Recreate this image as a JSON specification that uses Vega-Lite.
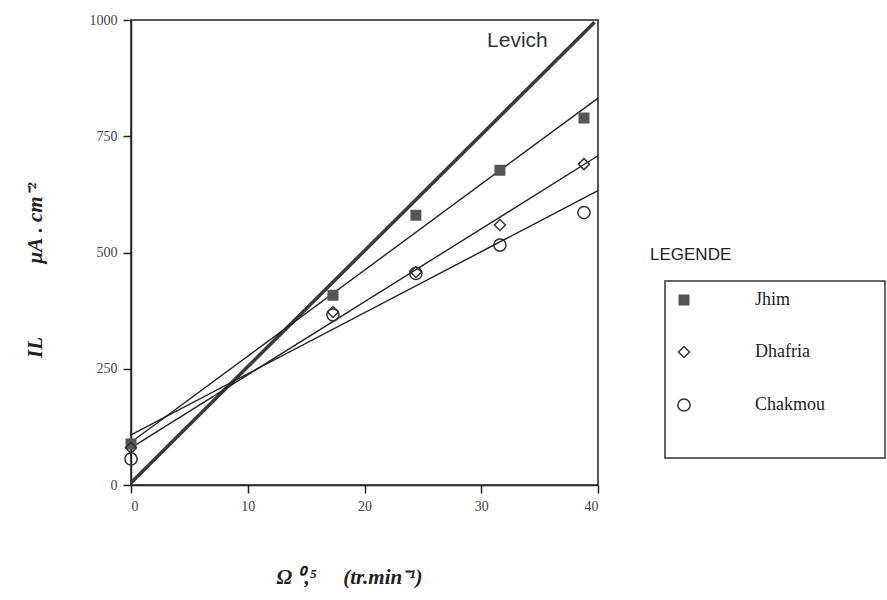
{
  "$schema": "https://vega.github.io/schema/vega-lite/v6.json",
  "width": 467,
  "height": 465,
  "autosize": {"type": "none"},
  "padding": {"left": 131, "top": 20, "right": 289, "bottom": 115},
  "background": "white",
  "title": {
    "text": "LEGENDE",
    "anchor": "start",
    "frame": "group",
    "dx": 519,
    "dy": 255,
    "font": "Liberation Sans",
    "fontSize": 17,
    "fontWeight": "normal",
    "color": "#222"
  },
  "datasets": {
    "fits": [
      {"series": "Levich", "x": 0, "y": 5},
      {"series": "Levich", "x": 39.7, "y": 995},
      {"series": "Jhim", "x": 0, "y": 92},
      {"series": "Jhim", "x": 40, "y": 832},
      {"series": "Dhafria", "x": 0, "y": 80},
      {"series": "Dhafria", "x": 40, "y": 708},
      {"series": "Chakmou", "x": 0, "y": 108},
      {"series": "Chakmou", "x": 40, "y": 633}
    ],
    "points": [
      {"series": "Jhim", "x": 0, "y": 88},
      {"series": "Jhim", "x": 17.3, "y": 408},
      {"series": "Jhim", "x": 24.4, "y": 580},
      {"series": "Jhim", "x": 31.6, "y": 677},
      {"series": "Jhim", "x": 38.8, "y": 789},
      {"series": "Dhafria", "x": 0, "y": 80},
      {"series": "Dhafria", "x": 17.3, "y": 372},
      {"series": "Dhafria", "x": 24.4, "y": 458},
      {"series": "Dhafria", "x": 31.6, "y": 559},
      {"series": "Dhafria", "x": 38.8, "y": 690},
      {"series": "Chakmou", "x": 0, "y": 56},
      {"series": "Chakmou", "x": 17.3, "y": 366},
      {"series": "Chakmou", "x": 24.4, "y": 455},
      {"series": "Chakmou", "x": 31.6, "y": 516},
      {"series": "Chakmou", "x": 38.8, "y": 586}
    ],
    "labels": [
      {"label": "Levich", "x": 30.5, "y": 955}
    ]
  },
  "layer": [
    {
      "data": {"name": "fits"},
      "transform": [{"filter": "datum.series === 'Levich'"}],
      "mark": {"type": "line", "color": "#3a3a3a", "strokeWidth": 3.5},
      "encoding": {
        "x": {"field": "x", "type": "quantitative"},
        "y": {"field": "y", "type": "quantitative"},
        "detail": {"field": "series"}
      }
    },
    {
      "data": {"name": "fits"},
      "transform": [{"filter": "datum.series !== 'Levich'"}],
      "mark": {"type": "line", "color": "#222", "strokeWidth": 1.4},
      "encoding": {
        "x": {"field": "x", "type": "quantitative"},
        "y": {"field": "y", "type": "quantitative"},
        "detail": {"field": "series"}
      }
    },
    {
      "data": {"name": "points"},
      "mark": {"type": "point", "filled": false, "strokeWidth": 1.5, "opacity": 1},
      "encoding": {
        "x": {
          "field": "x",
          "type": "quantitative",
          "scale": {"domain": [0, 40], "nice": false, "zero": false},
          "axis": {
            "values": [0, 10, 20, 30, 40],
            "format": "d",
            "title": "Ω\u00a0⁰,⁵\u2003\u00a0(tr.min⁻¹)",
            "titlePadding": 53,
            "titleX": 218
          }
        },
        "y": {
          "field": "y",
          "type": "quantitative",
          "scale": {"domain": [0, 1000], "nice": false},
          "axis": {
            "values": [0, 250, 500, 750, 1000],
            "format": "d",
            "title": "IL\u2003\u2003\u2003\u00a0\u00a0μA\u00a0.\u00a0cm⁻²",
            "titlePadding": 44,
            "titleY": 250
          }
        },
        "shape": {
          "field": "series",
          "type": "nominal",
          "scale": {"domain": ["Jhim", "Dhafria", "Chakmou"], "range": ["square", "diamond", "circle"]},
          "legend": {"title": "\u00a0", "labelExpr": "datum.label + '\u2003\u2003\u00a0\u00a0\u00a0\u200b'", "labelLimit": 400}
        },
        "fill": {
          "field": "series",
          "type": "nominal",
          "scale": {"domain": ["Jhim", "Dhafria", "Chakmou"], "range": ["#555555", "transparent", "transparent"]},
          "legend": {"title": "\u00a0", "labelExpr": "datum.label + '\u2003\u2003\u00a0\u00a0\u00a0\u200b'", "labelLimit": 400}
        },
        "stroke": {
          "field": "series",
          "type": "nominal",
          "scale": {"domain": ["Jhim", "Dhafria", "Chakmou"], "range": ["#555555", "#333333", "#333333"]},
          "legend": {"title": "\u00a0", "labelExpr": "datum.label + '\u2003\u2003\u00a0\u00a0\u00a0\u200b'", "labelLimit": 400}
        },
        "size": {
          "field": "series",
          "type": "nominal",
          "scale": {"domain": ["Jhim", "Dhafria", "Chakmou"], "range": [90, 150, 260]},
          "legend": {"title": "\u00a0", "labelExpr": "datum.label + '\u2003\u2003\u00a0\u00a0\u00a0\u200b'", "labelLimit": 400}
        }
      }
    },
    {
      "data": {"name": "labels"},
      "mark": {
        "type": "text",
        "align": "left",
        "baseline": "middle",
        "font": "Liberation Sans",
        "fontSize": 21,
        "letterSpacing": 1,
        "color": "#333"
      },
      "encoding": {
        "x": {"field": "x", "type": "quantitative"},
        "y": {"field": "y", "type": "quantitative"},
        "text": {"field": "label"}
      }
    }
  ],
  "config": {
    "view": {"stroke": "#222", "strokeWidth": 1.5},
    "axis": {
      "grid": false,
      "domainColor": "#222",
      "domainWidth": 1.5,
      "tickColor": "#222",
      "tickWidth": 1.5,
      "tickSize": 8,
      "labelFont": "Liberation Serif",
      "labelFontSize": 14,
      "labelColor": "#444",
      "labelPadding": 6,
      "titleFont": "Liberation Serif",
      "titleFontSize": 21,
      "titleFontStyle": "italic",
      "titleFontWeight": "bold",
      "titleColor": "#222"
    },
    "legend": {
      "orient": "none",
      "legendX": 534,
      "legendY": 261,
      "direction": "vertical",
      "strokeColor": "#333",
      "strokeWidth": 1.5,
      "padding": 10,
      "labelFont": "Liberation Serif",
      "labelFontSize": 18,
      "labelColor": "#222",
      "labelOffset": 62,
      "rowPadding": 34,
      "titleOrient": "bottom",
      "titleFont": "Liberation Sans",
      "titleFontSize": 20,
      "titlePadding": 14,
      "symbolStrokeWidth": 1.5
    }
  }
}
